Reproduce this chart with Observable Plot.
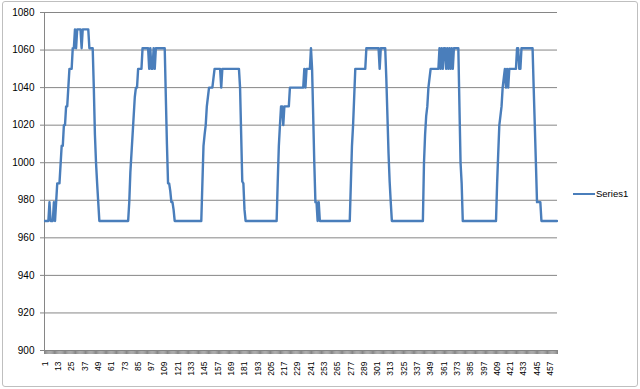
<!DOCTYPE html>
<html>
<head>
<meta charset="utf-8">
<script src="https://cdn.jsdelivr.net/npm/d3@7"></script>
<script src="https://cdn.jsdelivr.net/npm/@observablehq/plot@0.6"></script>
<style>
  html, body { margin: 0; padding: 0; background: #fff; }
  #wrap { position: relative; width: 640px; height: 389px; overflow: hidden; font-family: "Liberation Sans", Arial, sans-serif; }
  #border { position: absolute; left: 2px; top: 1px; width: 634px; height: 384px; border: 1px solid #bfbfbf; border-radius: 3px; pointer-events: none; }
  #legend { position: absolute; left: 573px; top: 188px; font-size: 9.5px; line-height: 12px; color: #000; display: flex; align-items: center; }
  #legend .sw { display: inline-block; width: 22px; height: 2px; background: #4a7ebb; margin-right: 1px; }
</style>
</head>
<body>
<div id="wrap"></div>
<script>
const seriesName = "Series1";
const yTicks = [900, 920, 940, 960, 980, 1000, 1020, 1040, 1060, 1080];
const xTickLabels = [1, 13, 25, 37, 49, 61, 73, 85, 97, 109, 121, 133, 145, 157, 169, 181, 193, 205, 217, 229, 241, 253, 265, 277, 289, 301, 313, 325, 337, 349, 361, 373, 385, 397, 409, 421, 433, 445, 457];
const values = [
  969,969,969,969,979,969,969,969,979,969,
  979,989,989,989,999,1009,1009,1020,1020,1030,
  1030,1040,1050,1050,1050,1061,1061,1071,1061,1071,
  1071,1071,1071,1061,1071,1071,1071,1071,1071,1071,
  1061,1061,1061,1061,1040,1015,1000,989,979,969,
  969,969,969,969,969,969,969,969,969,969,
  969,969,969,969,969,969,969,969,969,969,
  969,969,969,969,969,969,979,995,1005,1015,
  1025,1035,1040,1040,1050,1050,1050,1050,1061,1061,
  1061,1061,1061,1061,1050,1061,1050,1050,1061,1050,
  1061,1061,1061,1061,1061,1061,1061,1061,1061,1035,
  1010,989,989,985,979,979,975,969,969,969,
  969,969,969,969,969,969,969,969,969,969,
  969,969,969,969,969,969,969,969,969,969,
  969,969,989,1009,1015,1020,1030,1035,1040,1040,
  1040,1040,1045,1050,1050,1050,1050,1050,1050,1040,
  1050,1050,1050,1050,1050,1050,1050,1050,1050,1050,
  1050,1050,1050,1050,1050,1050,1040,1015,990,989,
  975,969,969,969,969,969,969,969,969,969,
  969,969,969,969,969,969,969,969,969,969,
  969,969,969,969,969,969,969,969,969,969,
  990,1009,1020,1030,1030,1020,1030,1030,1030,1030,
  1030,1040,1040,1040,1040,1040,1040,1040,1040,1040,
  1040,1040,1040,1040,1050,1040,1050,1050,1050,1050,
  1061,1050,1025,1000,979,979,969,979,969,969,
  969,969,969,969,969,969,969,969,969,969,
  969,969,969,969,969,969,969,969,969,969,
  969,969,969,969,969,969,989,1009,1020,1035,
  1050,1050,1050,1050,1050,1050,1050,1050,1050,1050,
  1061,1061,1061,1061,1061,1061,1061,1061,1061,1061,
  1061,1061,1050,1061,1061,1061,1061,1061,1045,1025,
  1005,990,979,969,969,969,969,969,969,969,
  969,969,969,969,969,969,969,969,969,969,
  969,969,969,969,969,969,969,969,969,969,
  969,969,1000,1015,1025,1030,1040,1045,1050,1050,
  1050,1050,1050,1050,1050,1050,1061,1050,1061,1050,
  1061,1061,1050,1061,1050,1061,1050,1061,1050,1061,
  1061,1061,1061,1061,1030,1000,989,969,969,969,
  969,969,969,969,969,969,969,969,969,969,
  969,969,969,969,969,969,969,969,969,969,
  969,969,969,969,969,969,969,969,989,1005,
  1020,1025,1030,1040,1045,1050,1040,1050,1040,1050,
  1050,1050,1050,1050,1050,1050,1061,1061,1050,1050,
  1061,1061,1061,1061,1061,1061,1061,1061,1061,1061,
  1061,1040,1020,1000,979,979,979,979,969,969,
  969,969,969,969,969,969,969,969,969,969,
  969,969,969
];
const categories = values.map((d, i) => i + 1);
const N = values.length;
const boundaries = d3.range(0.5, N + 1, 1);
const data = values.map((v, i) => ({cat: categories[i], value: v}));

const gridColor = "#868686";
const chart = Plot.plot({
  width: 640,
  height: 389,
  marginLeft: 44,
  marginRight: 83,
  marginTop: 12,
  marginBottom: 39,
  style: {fontFamily: "'Liberation Sans', Arial, sans-serif", background: "#fff", overflow: "visible"},
  x: {type: "linear", domain: [0.5, N + 0.5], axis: null},
  y: {domain: [900, 1080], axis: null},
  marks: [
    Plot.gridY(yTicks, {stroke: gridColor, strokeOpacity: 1}),
    Plot.ruleX([0.5], {stroke: gridColor}),
    Plot.ruleY([900], {stroke: gridColor}),
    Plot.axisY(yTicks, {label: null, tickSize: 4, tickPadding: 6, fontSize: 10, stroke: gridColor, fill: "#000", tickFormat: d => String(d)}),
    Plot.axisX(boundaries, {label: null, tickSize: 4, tickFormat: () => "", stroke: gridColor}),
    Plot.axisX(xTickLabels, {label: null, tickSize: 0, tickPadding: 11, tickRotate: -90, fontSize: 8.5, fill: "#000", tickFormat: d => String(d)}),
    Plot.lineY(data, {x: "cat", y: "value", stroke: "#4a7ebb", strokeWidth: 2.4, strokeLinejoin: "round"})
  ]
});
const wrap = document.getElementById("wrap");
wrap.appendChild(chart);
const legend = document.createElement("div");
legend.id = "legend";
legend.innerHTML = '<span class="sw"></span><span>' + seriesName + '</span>';
wrap.appendChild(legend);
const border = document.createElement("div");
border.id = "border";
wrap.appendChild(border);
</script>
</body>
</html>
